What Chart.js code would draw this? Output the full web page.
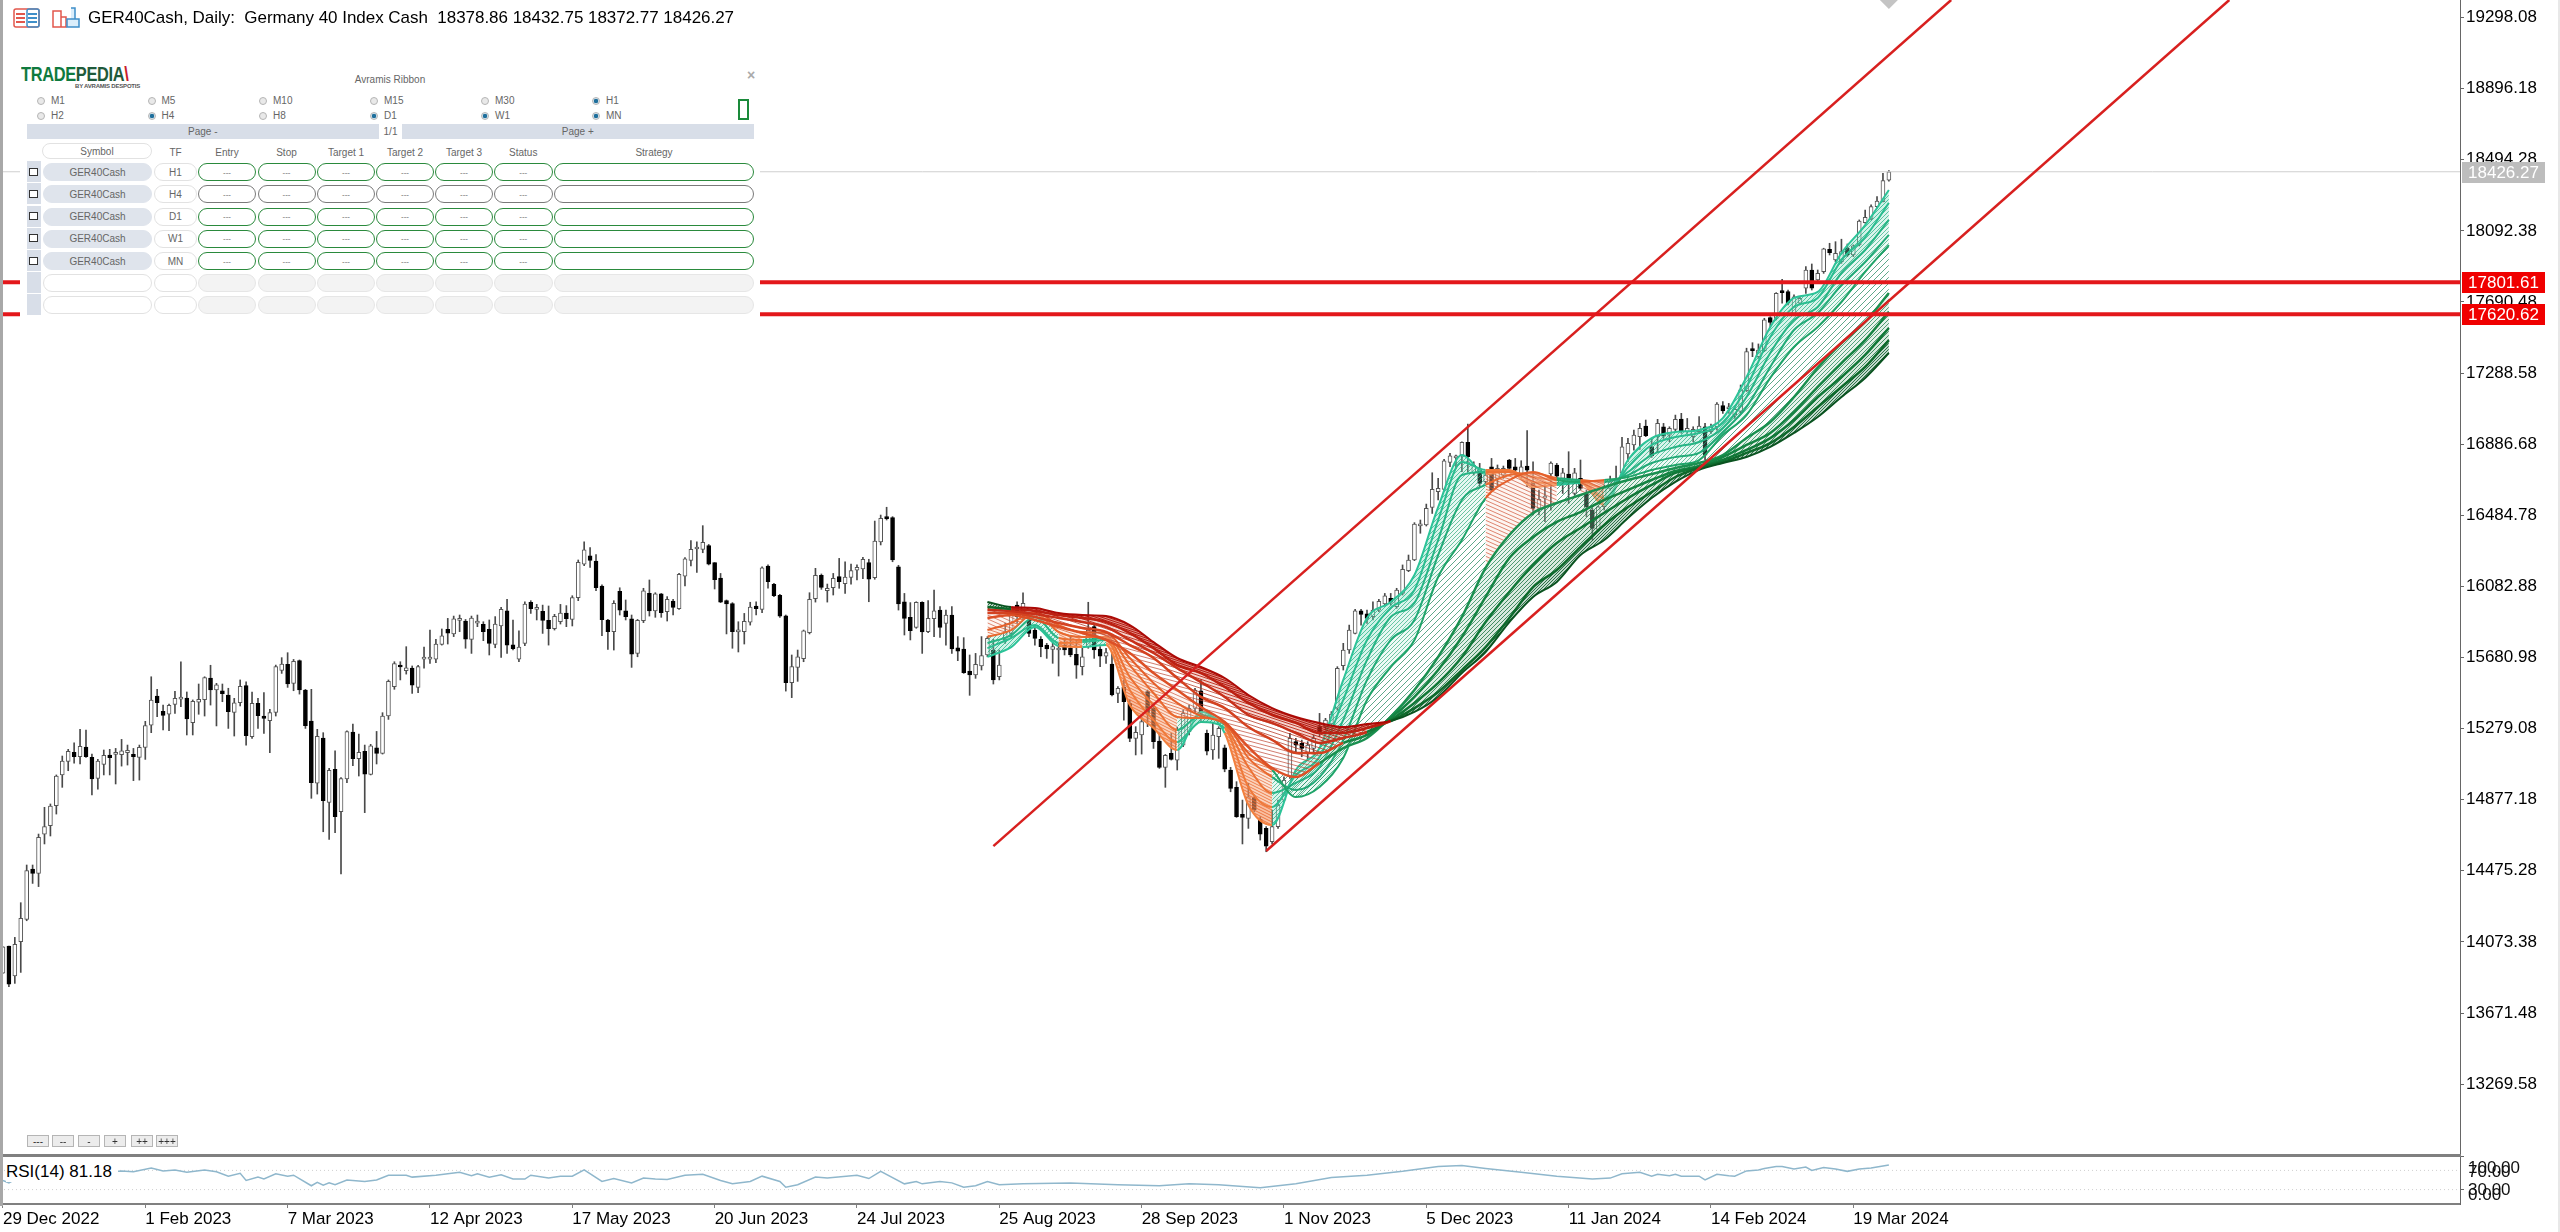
<!DOCTYPE html>
<html lang="en">
<head>
<meta charset="UTF-8">
<title>GER40Cash, Daily</title>
<script src="https://cdn.jsdelivr.net/npm/chart.js"></script>
<style>
    html, body { margin: 0; padding: 0; background: #fff; overflow: hidden; }
    body { width: 2560px; height: 1232px; position: relative; font-family: "Liberation Sans", sans-serif; color: #000; }
    canvas { position: absolute; left: 0; }
    #mainChart { top: 0; }
    #rsiChart { top: 1156px; }
    .abs { position: absolute; white-space: nowrap; }
    #frameLeft { left: 0; top: 0; width: 3px; height: 1206px; background: #a8a8a8; }
    #frameRight { left: 2558px; top: 0; width: 2px; height: 1232px; background: #e8e8e8; }
    #divider { left: 3px; top: 1154px; width: 2458px; height: 3px; background: #808080; }
    #title { left: 88px; top: 8px; font-size: 17px; line-height: 20px; white-space: pre; letter-spacing: -.03px; }
    #panel { left: 20px; top: 58px; width: 740px; height: 270px; background: #fff; }
    #panel .abs { font-size: 10px; color: #666; box-sizing: border-box; }
    .cell { display: flex; align-items: center; justify-content: center; }
    .pill { border-radius: 9px; border: 1px solid #e2e2e2; background: #fff; }
    .btn { left: 0; top: 1135px; height: 12px; line-height: 11px; font-size: 10px; text-align: center; background: #ececec; border: 1px solid #b5b5b5; box-sizing: border-box; color: #333; }
    #rsiLabel { left: 6px; top: 1162px; font-size: 17px; line-height: 20px; background: #fff; padding-right: 6px; }
    .rsiTick { font-size: 17px; line-height: 20px; color: #111; }
</style>
</head>
<body>
<canvas id="mainChart" width="2560" height="1155"></canvas>
<canvas id="rsiChart" width="2560" height="76"></canvas>
<div id="frameLeft" class="abs"></div>
<div id="frameRight" class="abs"></div>
<div id="divider" class="abs"></div>

<!-- header icons -->
<svg class="abs" style="left:13px;top:8px" width="27" height="20" viewBox="0 0 27 20">
    <rect x="1" y="1" width="25" height="18" rx="2" fill="#fff" stroke="#e2574c" stroke-width="1.5"/>
    <rect x="14" y="1" width="12" height="18" rx="2" fill="none" stroke="#3f8fc9" stroke-width="1.5"/>
    <path d="M3 6h9M3 10h9M3 14h9" stroke="#e2574c" stroke-width="2"/>
    <path d="M15 6h9M15 10h9M15 14h9" stroke="#3f8fc9" stroke-width="2"/>
</svg>
<svg class="abs" style="left:52px;top:7px" width="28" height="21" viewBox="0 0 28 21">
    <path d="M1 4h8v16h-8z M9 10h5v10h-5" fill="#fff" stroke="#e2574c" stroke-width="1.5"/>
    <path d="M15 12h12v8h-12z M19 1h4v11h-4" fill="#dbeefb" stroke="#3f8fc9" stroke-width="1.5"/>
</svg>
<div id="title" class="abs">GER40Cash, Daily:  Germany 40 Index Cash  18378.86 18432.75 18372.77 18426.27</div>

<div id="panel" class="abs"></div>
<div id="rsiLabel" class="abs">RSI(14) 81.18</div>

<script>
// candles, one entry per daily bar
const opens = [13896,14050,13881,14075,14201,14485,14461,14683,14730,14843,
    15017,15094,15145,15120,15175,15116,14998,15077,15130,15133,
    15132,15143,15133,15116,15173,15299,15463,15376,15360,15416,
    15446,15452,15312,15429,15442,15565,15497,15493,15469,15371,
    15425,15522,15233,15422,15350,15324,15371,15608,15642,15535,
    15663,15497,15322,14970,15226,14862,15049,14809,14994,15260,
    15109,15150,15020,15171,15139,15350,15516,15638,15606,15621,
    15512,15672,15672,15672,15755,15840,15814,15891,15887,15783,
    15875,15868,15840,15755,15859,15945,15753,15672,15761,15993,
    15953,15942,15891,15844,15883,15932,15896,16019,16209,16256,
    16226,16085,15893,15827,16055,15945,15900,15704,15889,16043,
    15944,16040,15940,16000,15957,16141,16230,16294,16292,16313,
    16217,16130,16002,15985,15826,15827,15880,15972,15953,16198,
    16094,16032,15917,15539,15625,15674,15821,16013,16145,16059,
    16075,16138,16098,16134,16175,16181,16217,16132,16334,16477,
    16471,16194,15996,15908,15851,15993,15827,15900,15949,15874,
    15921,15736,15729,15604,15582,15633,15695,15723,15572,15780,
    15817,15977,15930,15893,15836,15783,15751,15727,15723,15751,
    15733,15699,15629,15742,15855,15729,15689,15644,15478,15512,
    15422,15224,15243,15488,15393,15209,15060,15139,15101,15186,
    15262,15393,15493,15252,15158,15233,15171,15045,14947,14794,
    14772,14889,14766,14715,14640,14725,14875,15007,15205,15196,
    15139,15167,15290,15290,15305,15394,15635,15723,15817,15945,
    15927,15912,15949,15983,16015,15968,16043,16172,16232,16425,
    16430,16529,16618,16631,16784,16809,16825,16897,16724,16740,
    16674,16759,16693,16712,16797,16759,16699,16763,16674,16524,
    16582,16718,16769,16693,16718,16608,16693,16608,16514,16405,
    16533,16637,16665,16722,16831,16882,16929,16989,16872,16929,
    16985,16938,16970,17029,16957,16929,16957,16985,16957,16985,
    17104,17087,17052,17071,17189,17423,17381,17415,17602,17598,
    17753,17749,17626,17683,17768,17871,17815,17862,17988,17928,
    17918,17994,17956,18013,18139,18159,18229,18257,18378.86];
const closes = [14046,13835,14060,14207,14476,14461,14664,14725,14841,15011,
    15096,15150,15120,15179,15120,14994,15096,15128,15115,15134,
    15154,15156,15120,15173,15296,15440,15425,15354,15410,15450,
    15448,15333,15433,15444,15567,15497,15527,15476,15375,15425,
    15518,15239,15422,15352,15337,15369,15629,15644,15531,15659,
    15497,15295,14973,15235,14872,15043,14781,14996,15262,15109,
    15145,15022,15181,15139,15350,15546,15646,15627,15623,15525,
    15629,15674,15674,15757,15804,15819,15900,15893,15785,15904,
    15877,15827,15761,15870,15953,15751,15731,15740,15983,15957,
    15955,15891,15844,15913,15932,15900,16019,16219,16290,16230,
    16075,15895,15827,15987,15949,15912,15699,15891,16057,15944,
    16040,15934,16010,15964,16151,16239,16292,16296,16332,16209,
    16121,15994,15983,15827,15828,15885,15966,15957,16188,16109,
    16030,15915,15539,15629,15685,15832,16010,16145,16077,16072,
    16128,16109,16136,16172,16190,16236,16123,16339,16467,16465,
    16232,15983,15902,15832,15993,15825,15902,15945,15851,15921,
    15729,15717,15595,15582,15642,15691,15789,15554,15638,15821,
    15930,15912,15987,15817,15789,15742,15729,15742,15733,15723,
    15695,15638,15685,15836,15723,15689,15708,15469,15507,15431,
    15224,15258,15318,15365,15205,15060,15128,15105,15271,15365,
    15393,15497,15375,15152,15243,15280,15049,14941,14781,14777,
    14894,14819,14683,14615,14725,14847,14988,15224,15186,15167,
    15186,15224,15252,15327,15361,15620,15723,15836,15945,15925,
    15902,15949,15998,16030,15993,16062,16179,16232,16435,16427,
    16524,16631,16637,16793,16821,16811,16897,16816,16767,16665,
    16712,16627,16750,16750,16750,16740,16759,16740,16524,16575,
    16584,16780,16706,16725,16693,16725,16637,16533,16411,16533,
    16646,16674,16684,16872,16891,16938,16976,16934,16820,17004,
    16932,16976,17027,16957,16976,16970,16989,16825,16982,17113,
    17074,17089,17084,17193,17410,17415,17419,17589,17574,17739,
    17743,17683,17720,17711,17871,17768,17852,17990,17969,17965,
    17975,17956,18007,18148,18169,18229,18261,18376,18426.27];
const highs = [14046,14050,14099,14295,14508,14508,14683,14834,14853,15017,
    15124,15162,15199,15275,15271,15135,15105,15158,15162,15167,
    15218,15186,15167,15186,15320,15572,15501,15412,15418,15490,
    15657,15486,15441,15531,15572,15637,15535,15531,15507,15450,
    15554,15544,15486,15450,15482,15388,15638,15680,15708,15670,
    15667,15501,15501,15275,15256,15054,15154,15002,15267,15305,
    15248,15186,15190,15263,15369,15554,15657,15657,15742,15633,
    15637,15740,15836,15783,15842,15902,15915,15921,15896,15915,
    15921,15883,15893,15912,15964,16010,15893,15831,15996,16002,
    15981,15977,15972,15925,15981,15974,16030,16232,16335,16302,
    16262,16091,15896,16002,16075,16006,15921,15896,16072,16119,
    16047,16043,16025,16010,16156,16245,16341,16335,16426,16320,
    16217,16156,16006,15991,15883,15930,15993,15996,16194,16204,
    16100,16038,15921,15695,15723,15836,16047,16185,16153,16096,
    16156,16241,16222,16209,16204,16247,16236,16452,16486,16530,
    16477,16202,16043,15991,15996,15996,16002,16062,15968,15949,
    15968,15799,15793,15695,15704,15799,15799,15783,15723,15874,
    15940,15996,16047,15930,15855,15799,15761,15761,15761,15780,
    15799,15780,15733,15993,15874,15742,15733,15704,15516,15554,
    15441,15290,15346,15497,15403,15252,15133,15252,15286,15384,
    15412,15507,15554,15271,15309,15290,15186,15060,14979,14875,
    14970,14904,14781,14725,14819,14875,15007,15252,15224,15214,
    15205,15243,15365,15337,15375,15629,15761,15864,15953,15953,
    15949,15996,16010,16043,16043,16072,16204,16260,16443,16458,
    16548,16725,16693,16801,16835,16825,16900,17000,16787,16778,
    16722,16806,16769,16763,16801,16806,16793,16963,16787,16627,
    16656,16787,16778,16750,16844,16750,16797,16627,16524,16537,
    16656,16706,16763,16925,16919,16966,17004,17023,16919,17027,
    17004,16985,17051,17061,17032,16985,17042,17004,17000,17121,
    17127,17117,17099,17221,17429,17460,17453,17598,17607,17743,
    17818,17758,17730,17720,17890,17905,17871,17994,18022,18031,
    18045,18018,18013,18154,18210,18239,18286,18418,18432.75];
const lows = [13896,13820,13839,13901,14193,14404,14386,14627,14672,14796,
    14947,15041,15083,15079,15116,14904,14936,15017,15017,14966,
    15067,15073,14985,14988,15105,15256,15346,15271,15267,15365,
    15403,15243,15243,15360,15350,15412,15294,15431,15280,15237,
    15407,15186,15224,15280,15252,15143,15350,15591,15512,15493,
    15474,15280,14885,14909,14696,14653,14691,14457,14973,15069,
    15011,14804,15017,15079,15135,15331,15501,15554,15587,15478,
    15482,15620,15648,15652,15751,15757,15799,15827,15733,15704,
    15855,15776,15695,15736,15682,15704,15723,15657,15748,15930,
    15893,15817,15751,15836,15870,15855,15859,16002,16200,16190,
    16059,15804,15727,15723,15921,15893,15625,15685,15878,15915,
    15908,15908,15887,15921,15953,16085,16198,16162,16273,16204,
    16068,15991,15814,15733,15712,15757,15864,15921,15934,16072,
    16025,15908,15491,15454,15546,15657,15814,15994,16066,15994,
    16034,16072,16043,16096,16119,16126,15996,16123,16317,16458,
    16222,15949,15808,15780,15846,15704,15821,15799,15795,15751,
    15704,15663,15591,15467,15563,15610,15685,15531,15554,15761,
    15799,15874,15893,15799,15751,15685,15676,15648,15576,15695,
    15685,15563,15582,15733,15676,15629,15648,15463,15425,15327,
    15205,15130,15135,15290,15167,15054,14947,15101,15045,15177,
    15243,15365,15318,15130,15105,15111,15035,14922,14777,14627,
    14715,14809,14649,14583,14627,14715,14866,14998,15139,15120,
    15101,15139,15233,15271,15290,15384,15610,15704,15814,15864,
    15874,15893,15940,15972,15977,15959,16034,16166,16228,16383,
    16424,16495,16571,16627,16759,16750,16731,16731,16712,16646,
    16665,16618,16646,16693,16744,16712,16693,16646,16486,16486,
    16448,16514,16693,16608,16552,16599,16627,16477,16345,16392,
    16514,16627,16656,16712,16787,16853,16857,16929,16812,16844,
    16919,16900,16957,16948,16948,16900,16948,16797,16948,16966,
    17061,17061,17033,17061,17184,17381,17372,17410,17551,17589,
    17683,17673,17617,17673,17739,17758,17796,17852,17956,17918,
    17909,17947,17947,18007,18135,18154,18220,18256,18372.77];

// ribbon lines, read every 4th bar, fastest first
const ribbonBars = [166,170,174,178,182,186,190,194,198,202,206,210,214,218,222,226,230,234,238,242,246,250,254,258,262,266,270,274,278,282,286,290,294,298,302,306,310,314,318];
const ribbon1 = [15684,15740,15853,15746,15740,15751,15412,15282,15158,15373,15254,14847,14734,15045,15169,15554,15904,15995,16147,16531,16825,16718,16735,16644,16656,16667,16543,16797,16921,16955,16967,17034,17266,17549,17713,17747,17967,18125,18323];
const ribbon2 = [15734,15791,15864,15763,15768,15780,15497,15328,15203,15316,15282,14949,14836,15017,15118,15441,15780,15961,16062,16458,16786,16741,16741,16673,16667,16673,16582,16757,16882,16927,16950,17006,17210,17492,17662,17713,17927,18057,18250];
const ribbon3 = [15763,15808,15910,15791,15780,15791,15571,15412,15271,15356,15299,15062,14915,14972,15062,15328,15667,15910,15989,16345,16712,16729,16729,16701,16684,16678,16639,16729,16825,16871,16899,16978,17153,17402,17588,17662,17854,17984,18154];
const ribbon4 = [15797,15836,15932,15825,15797,15797,15638,15480,15345,15339,15316,15113,15005,14932,15005,15215,15554,15780,15893,16260,16571,16656,16712,16724,16695,16684,16673,16712,16780,16814,16837,16955,17097,17323,17532,17628,17786,17916,18069];
const ribbon5 = [15836,15876,15938,15864,15825,15819,15678,15537,15424,15350,15305,15141,15045,14892,14949,15113,15441,15627,15780,16136,16345,16582,16684,16729,16684,16673,16684,16701,16741,16769,16797,16938,17051,17261,17436,17549,17690,17860,18012];
const ribbon6 = [15904,15921,15893,15853,15819,15780,15706,15593,15497,15401,15316,15175,15056,15005,15085,15169,15226,15345,15497,15684,15910,16187,16373,16498,16554,16599,16644,16684,16718,16752,16780,16825,16921,17012,17153,17317,17458,17577,17741];
const ribbon7 = [15932,15932,15910,15876,15848,15825,15751,15678,15565,15458,15395,15288,15215,15141,15141,15198,15243,15339,15458,15610,15797,16023,16243,16362,16447,16503,16571,16628,16684,16735,16763,16814,16882,16950,17068,17210,17345,17475,17634];
const ribbon8 = [15949,15944,15927,15904,15881,15853,15780,15706,15621,15542,15458,15356,15311,15254,15198,15226,15260,15328,15424,15537,15684,15881,16051,16204,16328,16413,16498,16582,16656,16724,16757,16797,16854,16921,17023,17153,17266,17391,17543];
const ribbon9 = [15966,15955,15944,15921,15904,15881,15819,15734,15638,15593,15514,15424,15356,15311,15254,15254,15282,15322,15395,15486,15610,15740,15904,16079,16175,16305,16430,16531,16616,16701,16752,16786,16837,16893,16984,17097,17210,17323,17475];
const ribbon10 = [15995,15966,15961,15932,15921,15915,15864,15768,15678,15627,15565,15469,15395,15345,15311,15288,15305,15322,15373,15458,15593,15712,15881,16023,16108,16260,16345,16469,16582,16673,16741,16780,16814,16871,16950,17040,17153,17261,17402];
const ribbonLines = [ribbon1, ribbon2, ribbon3, ribbon4, ribbon5, ribbon6, ribbon7, ribbon8, ribbon9, ribbon10];

// bars where each ribbon line is on its green side
const fastGreen = [[166,178],[182,186],[198,206],[214,250],[262,266],[270,318]];
const midGreen = [[214,250],[262,266],[270,318]];
const greenSpans = [fastGreen, fastGreen, fastGreen, midGreen, midGreen,
    [[222,318]], [[226,318]], [[230,318]], [[166,170],[234,318]], [[166,170],[234,318]]];

const greenLineColors = ['#2cc398','#2bbd90','#27b585','#22ab78','#1fa469','#1a9050','#158443','#117838','#0e6a2c','#0a5320'];
const redLineColors = ['#f2803e','#ef7a3a','#ec7235','#e96a30','#e5602b','#dd5026','#d44220','#c8301a','#bc2012','#ac0a06'];

// trend channel and levels
const channelLowerBars = [213, 375.4];
const channelLowerPrices = [14587, 19397];
const channelUpperBars = [167, 328.5];
const channelUpperPrices = [14615, 19397];
const levelPrices = [17801.61, 17620.62];
const lastPrice = 18426.27;
const markerBar = 318;
const markerPrice = 19397;

// axis labels
const priceTicks = [19298.08,18896.18,18494.28,18092.38,17690.48,17288.58,16886.68,16484.78,16082.88,15680.98,15279.08,14877.18,14475.28,14073.38,13671.48,13269.58];
const dateTickBars = [0,24,48,72,96,120,144,168,192,216,240,264,288,312];
const dateLabels = ['29 Dec 2022','1 Feb 2023','7 Mar 2023','12 Apr 2023','17 May 2023','20 Jun 2023','24 Jul 2023','25 Aug 2023','28 Sep 2023','1 Nov 2023','5 Dec 2023','11 Jan 2024','14 Feb 2024','19 Mar 2024'];

// RSI(14)
const rsiBars = [0,1,2,20,22,25,27,29,31,34,36,38,40,41,43,44,46,48,49,52,53,54,55,56,58,61,63,65,68,69,73,77,79,80,82,84,86,88,89,92,94,96,98,101,103,106,108,110,112,115,118,121,123,126,128,131,132,134,137,139,144,146,148,152,154,155,158,160,162,164,166,168,172,180,188,195,200,205,212,218,224,230,236,242,246,250,256,262,268,271,273,276,278,279,281,282,283,286,287,289,291,292,294,296,297,299,300,302,304,305,307,309,311,313,315,318];
const rsiValues = [49,44,51,69,67,75,69,71,66,71,67,58,64,49,56,52,63,58,60,38,45,39,44,40,50,47,50,60,60,56,60,66,59,63,56,61,52,52,60,54,58,58,71,47,53,44,54,52,51,60,62,49,42,47,58,47,35,40,56,54,60,53,68,42,47,42,47,44,35,38,47,40,42,44,40,38,42,40,34,42,55,60,68,78,80,74,66,58,52,54,63,66,58,62,59,62,58,58,50,62,59,58,69,71,74,78,78,73,77,70,76,73,68,73,75,81.18];
const rsiLevels = [70, 30];
const rsiTickValues = [100, 70, 30, 0];
const rsiTickLabels = ['100.00', '70.00', '30.00', '0.00'];

// panel text
const panelRows = ['H1','H4','D1','W1','MN'];
const radioTop = ['M1','M5','M10','M15','M30','H1'];
const radioBottom = ['H2','H4','H8','D1','W1','MN'];
const radioOn = ['H1','H4','D1','W1','MN'];
const columnNames = ['Entry','Stop','Target 1','Target 2','Target 3','Status','Strategy'];
const zoomButtons = ['---','--','-','+','++','+++'];

const xMin = -0.5;
const xMax = 414.3;
const yMin = 12869;
const yMax = 19397;

function stripes(color, bg, w, h, rising) {
    const c = document.createElement('canvas');
    c.width = w;
    c.height = h;
    const g = c.getContext('2d');
    if (bg) {
        g.fillStyle = bg;
        g.fillRect(0, 0, w, h);
    }
    g.strokeStyle = color;
    g.lineWidth = 1;
    [-h, 0, h].forEach(dy => {
        g.beginPath();
        g.moveTo(0, (rising ? h : 0) + dy);
        g.lineTo(w, (rising ? 0 : h) + dy);
        g.stroke();
    });
    return g.createPattern(c, 'repeat');
}

const greenFills = [
    stripes('rgba(35,180,135,.75)', 'rgba(120,220,190,.35)', 4, 4, true),
    stripes('rgba(35,175,130,.7)', 'rgba(130,220,190,.3)', 4, 4, true),
    stripes('rgba(35,170,125,.65)', 'rgba(150,225,200,.25)', 4, 4, true),
    stripes('rgba(35,165,115,.65)', 'rgba(170,230,205,.2)', 4, 4, true),
    stripes('rgba(40,140,100,.75)', null, 6, 6, true),
    stripes('rgba(20,125,75,.7)', 'rgba(175,215,190,.3)', 4, 4, true),
    stripes('rgba(20,115,65,.7)', 'rgba(175,215,190,.35)', 4, 4, true),
    stripes('rgba(15,105,55,.75)', 'rgba(155,200,170,.4)', 4, 4, true),
    stripes('rgba(10,85,40,.8)', 'rgba(130,180,150,.5)', 3, 3, true)
];
const redFills = [
    stripes('rgba(235,105,50,.85)', 'rgba(245,150,100,.6)', 6, 3, false),
    stripes('rgba(235,105,50,.8)', 'rgba(245,165,120,.5)', 6, 3, false),
    stripes('rgba(225,95,45,.7)', 'rgba(248,190,155,.4)', 6, 3, false),
    stripes('rgba(215,85,45,.7)', 'rgba(248,205,180,.35)', 9, 3, false),
    stripes('rgba(205,70,40,.65)', 'rgba(248,220,205,.25)', 9, 4, false),
    stripes('rgba(190,70,50,.7)', null, 15, 4, false),
    stripes('rgba(180,55,35,.75)', null, 12, 4, false),
    stripes('rgba(185,30,15,.85)', 'rgba(220,110,90,.3)', 9, 3, false),
    stripes('rgba(175,15,8,.9)', 'rgba(200,50,30,.55)', 6, 2, false)
];

function isGreen(lineIndex, bar) {
    return greenSpans[lineIndex].some(s => bar >= s[0] && bar < s[1]);
}

const ribbonDatasets = ribbonLines.map((values, n) => ({
    type: 'line',
    data: ribbonBars.map((b, i) => ({ x: b, y: values[i] })),
    order: 8 - n * 0.1,
    borderWidth: n < 5 ? 2 : n === 9 ? 2 : 2.5,
    borderColor: greenLineColors[n],
    backgroundColor: n < 9 ? greenFills[n] : 'transparent',
    fill: n < 9 ? '+1' : false,
    pointRadius: 0,
    cubicInterpolationMode: 'monotone',
    segment: {
        borderColor: c => isGreen(n, ribbonBars[c.p0DataIndex]) ? greenLineColors[n] : redLineColors[n],
        backgroundColor: c => {
            if (n >= 9) return 'transparent';
            return isGreen(n, ribbonBars[c.p0DataIndex]) ? greenFills[n] : redFills[n];
        }
    }
}));

function straightLine(xs, ys, color, width, order) {
    return {
        type: 'line',
        data: xs.map((x, i) => ({ x: x, y: ys[i] })),
        borderColor: color,
        borderWidth: width,
        pointRadius: 0,
        fill: false,
        order: order
    };
}

// no half-label padding, the plot runs to the canvas edge
function noPadding(s) {
    s.paddingTop = 0;
    s.paddingBottom = 0;
    s.paddingLeft = 0;
    s.paddingRight = 0;
}

// price tags on the right axis
const priceTags = {
    id: 'priceTags',
    afterDraw(chart) {
        const ctx = chart.ctx;
        const y = chart.scales.y;
        const tag = (price, color, label) => {
            const py = Math.round(y.getPixelForValue(price));
            ctx.fillStyle = color;
            ctx.fillRect(2462, py - 10, 83, 21);
            ctx.fillStyle = '#fff';
            ctx.font = '17px "Liberation Sans"';
            ctx.textAlign = 'center';
            ctx.textBaseline = 'middle';
            ctx.fillText(label, 2503.5, py + 1);
        };
        tag(lastPrice, '#bdbdbd', lastPrice.toFixed(2));
        levelPrices.forEach(p => tag(p, '#f00000', p.toFixed(2)));
    }
};

new Chart(document.getElementById('mainChart'), {
    type: 'bar',
    data: {
        datasets: [
            {
                data: lows.map((l, i) => ({ x: i, y: [l, highs[i]] })),
                barThickness: 1,
                grouped: false,
                backgroundColor: '#4a4a4a',
                borderWidth: 0,
                order: 10
            },
            {
                data: opens.map((o, i) => ({ x: i, y: [o, closes[i]] })),
                barThickness: 4,
                grouped: false,
                minBarLength: 2,
                backgroundColor: c => closes[c.dataIndex] >= opens[c.dataIndex] ? '#ffffff' : '#000000',
                borderColor: c => closes[c.dataIndex] >= opens[c.dataIndex] ? '#555555' : '#000000',
                borderWidth: 1,
                borderSkipped: false,
                order: 9
            },
            ...ribbonDatasets,
            straightLine(channelLowerBars, channelLowerPrices, '#d8201f', 2.5, 2),
            straightLine(channelUpperBars, channelUpperPrices, '#d8201f', 2.5, 2),
            straightLine([xMin, xMax], [lastPrice, lastPrice], '#cfcfcf', 1, 3),
            straightLine([xMin, xMax], [levelPrices[0], levelPrices[0]], '#e3171b', 4, 1),
            straightLine([xMin, xMax], [levelPrices[1], levelPrices[1]], '#e3171b', 4, 1),
            {
                type: 'line',
                data: [{ x: markerBar, y: markerPrice }],
                pointStyle: 'rectRot',
                pointRadius: 9,
                pointBackgroundColor: '#c4c4c4',
                pointBorderWidth: 0,
                showLine: false,
                order: 0
            }
        ]
    },
    options: {
        responsive: false,
        animation: false,
        events: [],
        layout: { autoPadding: false, padding: 0 },
        plugins: { legend: { display: false }, tooltip: { enabled: false } },
        scales: {
            x: { type: 'linear', min: xMin, max: xMax, offset: false, display: false, grid: { display: false } },
            y: {
                type: 'linear',
                position: 'right',
                min: yMin,
                max: yMax,
                afterBuildTicks: s => { s.ticks = priceTicks.map(v => ({ value: v })); },
                afterFit: s => { s.width = 100; noPadding(s); },
                grid: { drawOnChartArea: false, tickLength: 4, color: '#666' },
                border: { color: '#666', width: 1 },
                ticks: {
                    color: '#000',
                    padding: 2,
                    autoSkip: false,
                    font: { family: 'Liberation Sans', size: 17 },
                    callback: v => v.toFixed(2)
                }
            }
        }
    },
    plugins: [priceTags]
});

new Chart(document.getElementById('rsiChart'), {
    type: 'line',
    data: {
        datasets: [
            Object.assign(straightLine([xMin, xMax], [rsiLevels[0], rsiLevels[0]], '#cfcfcf', 1, 5), { borderDash: [1, 3] }),
            Object.assign(straightLine([xMin, xMax], [rsiLevels[1], rsiLevels[1]], '#cfcfcf', 1, 5), { borderDash: [1, 3] }),
            straightLine(rsiBars, rsiValues, '#8fb7cc', 1.5, 1)
        ]
    },
    options: {
        responsive: false,
        animation: false,
        events: [],
        layout: { autoPadding: false, padding: 0 },
        plugins: { legend: { display: false }, tooltip: { enabled: false } },
        elements: { line: { tension: 0 } },
        scales: {
            x: {
                type: 'linear',
                min: xMin,
                max: xMax,
                offset: false,
                afterBuildTicks: s => { s.ticks = dateTickBars.map(v => ({ value: v })); },
                afterFit: s => { s.height = 28; noPadding(s); },
                grid: { drawOnChartArea: false, tickLength: 4, color: '#808080' },
                border: { color: '#808080', width: 2 },
                ticks: {
                    color: '#000',
                    align: 'start',
                    autoSkip: false,
                    maxRotation: 0,
                    padding: 1,
                    font: { family: 'Liberation Sans', size: 17 },
                    callback: v => dateLabels[dateTickBars.indexOf(v)]
                }
            },
            y: {
                type: 'linear',
                position: 'right',
                min: 0,
                max: 100,
                afterBuildTicks: s => { s.ticks = rsiTickValues.map(v => ({ value: v })); },
                afterFit: s => { s.width = 100; noPadding(s); },
                grid: { drawOnChartArea: false, tickLength: 4, color: '#666' },
                border: { color: '#666', width: 1 },
                ticks: { display: true, callback: () => '' }
            }
        }
    }
});

function addDiv(parent, left, top, width, height, cls, text, css) {
    const d = document.createElement('div');
    d.className = 'abs ' + (cls || '');
    d.style.left = left + 'px';
    d.style.top = top + 'px';
    if (width) d.style.width = width + 'px';
    if (height) d.style.height = height + 'px';
    if (text) d.textContent = text;
    if (css) d.style.cssText += css;
    parent.appendChild(d);
    return d;
}

// RSI axis labels sit on top of each other like the terminal draws them
const rsiLabelTops = [1158, 1162, 1180, 1185];
rsiTickLabels.forEach((t, i) => addDiv(document.body, 2468, rsiLabelTops[i], 0, 0, 'rsiTick', t));

zoomButtons.forEach((t, i) => {
    const lefts = [27, 52, 78, 104, 131, 156];
    addDiv(document.body, lefts[i], 1135, 22, 12, 'btn', t, 'top:1135px');
});

// Avramis Ribbon panel
const panel = document.getElementById('panel');
const px = x => x - 20;
const py = y => y - 58;
function add(left, top, width, height, cls, text, css) {
    return addDiv(panel, px(left), py(top), width, height, cls, text, css);
}

const logo = add(21, 64, 0, 0, '', '', 'font:bold 21px "Liberation Sans",sans-serif;letter-spacing:-.4px;color:#444;line-height:20px;transform-origin:left;transform:scaleX(.78)');
logo.innerHTML = '<span style="color:#0f7a3e">TRADE</span><span style="color:#1f5a3a">PEDIA</span><span style="color:#c8202a">\\</span>';
add(75, 83, 0, 0, '', 'BY AVRAMIS DESPOTIS', 'font-size:6px;font-weight:bold;color:#555;letter-spacing:-.2px');
add(340, 73, 100, 12, 'cell', 'Avramis Ribbon');
add(745, 69, 12, 12, 'cell', '×', 'font-size:14px;font-weight:bold;color:#aaa');

const radioX = [41, 151.5, 263, 374, 485, 596];
[radioTop, radioBottom].forEach((names, row) => {
    const cy = row === 0 ? 101 : 116;
    names.forEach((n, i) => {
        const on = radioOn.includes(n) && !(n === 'H1' && row !== 0);
        add(radioX[i] - 4, cy - 4, 8, 8, '', '', 'border-radius:50%;border:1px solid #b5b5b5;background:' + (on ? 'radial-gradient(#1f6f9c 45%,#cfe0ea 60%)' : '#e9e9e9'));
        add(radioX[i] + 10, cy - 6, 0, 12, '', n, 'line-height:12px');
    });
});
add(738, 99, 11, 21, '', '', 'border:2px solid #1a8a3a;background:#fff');

add(26.5, 124, 352.5, 15, 'cell', 'Page -', 'background:#d8dee8');
add(381, 124, 19, 15, 'cell', '1/1');
add(401.5, 124, 352.5, 15, 'cell', 'Page +', 'background:#d8dee8');

add(42, 143, 110, 16, 'cell', 'Symbol', 'border:1px solid #e2e2e2;border-radius:8px');
add(154, 145, 43, 14, 'cell', 'TF');
const cellLefts = [198, 257.5, 317, 376, 435, 494, 554];
const cellWidths = [58, 58, 58, 58, 58, 58.5, 200];
columnNames.forEach((n, i) => add(cellLefts[i], 145, cellWidths[i], 14, 'cell', n));

const rowCenters = [172, 194.3, 216.7, 238.7, 261, 283.3, 305.3];
rowCenters.forEach((cy, r) => {
    const filled = r < panelRows.length;
    const top = cy - 9;
    add(26.5, top - 2, 14.5, 22, 'cell', '', 'background:#d8dee8;border-bottom:1px solid #fff').innerHTML =
        filled ? '<span style="display:block;width:7px;height:6px;border:1px solid #333;background:#fff"></span>' : '';
    add(43, top, 109, 18, 'cell pill', filled ? 'GER40Cash' : '', filled ? 'background:#dfe4ec;border-color:#dfe4ec' : '');
    add(154, top, 43, 18, 'cell pill', filled ? panelRows[r] : '');
    cellLefts.forEach((l, i) => {
        const stroke = !filled ? '#e6e6e6' : r === 1 ? '#7a7a7a' : '#2a8a3c';
        const text = filled && i < 6 ? '---' : '';
        add(l, top, cellWidths[i], 18, 'cell', text, 'border-radius:9px;border:1px solid ' + stroke + ';' + (filled ? 'background:#fff;' : 'background:#f3f3f3;') + 'font-size:8px');
    });
});
</script>
</body>
</html>
